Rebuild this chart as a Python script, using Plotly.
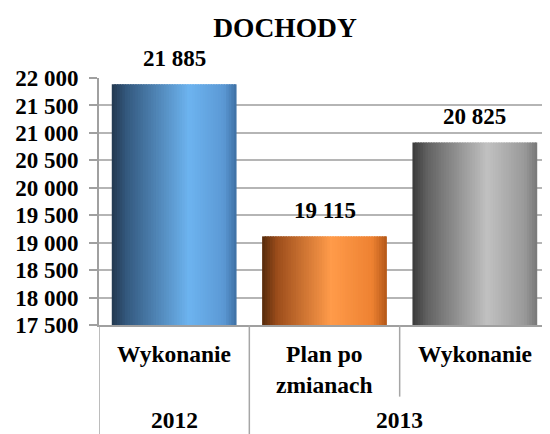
import plotly.graph_objects as go

# ---- data ----
years = ["2012", "2013", "2013"]
stages = ["Wykonanie", "Plan po<br>zmianach", "Wykonanie"]
values = [21885, 19115, 20825]
title_text = "DOCHODY"
y_min, y_max, y_step = 17500, 22000, 500

# ---- style ----
FONT = "Liberation Serif"
gradients = [
    [(0.0, "#22384f"), (0.12, "#34597f"), (0.62, "#6db4f0"), (0.9, "#5b98d4"), (1.0, "#3e70a3")],
    [(0.0, "#552a0b"), (0.12, "#9c4d1b"), (0.55, "#ff9b4a"), (0.88, "#ee8232"), (1.0, "#b35718")],
    [(0.0, "#3a3a3a"), (0.12, "#626262"), (0.6, "#c1c1c1"), (0.9, "#999999"), (1.0, "#787878")],
]
LINE_C = "#a6a6a6"


def hex2rgb(h):
    h = h.lstrip("#")
    return tuple(int(h[i:i + 2], 16) for i in (0, 2, 4))


def interp(stops, t):
    for (p0, c0), (p1, c1) in zip(stops[:-1], stops[1:]):
        if p0 <= t <= p1:
            f = (t - p0) / (p1 - p0) if p1 > p0 else 0
            a, b = hex2rgb(c0), hex2rgb(c1)
            return "rgb(%d,%d,%d)" % tuple(round(a[i] + (b[i] - a[i]) * f) for i in range(3))
    return stops[-1][1]


def bold(s):
    return "<b>" + s.replace("<br>", "</b><br><b>") + "</b>"


xpos = list(range(len(values)))
bar_w = 0.83
n_strip = 48
step = bar_w / n_strip

fig = go.Figure()
for k in range(n_strip):
    t = (k + 0.5) / n_strip
    w = step * (1.6 if k < n_strip - 1 else 1.0)
    fig.add_trace(go.Bar(
        x=xpos, y=[v - y_min for v in values], base=y_min,
        width=w, offset=-bar_w / 2 + k * step,
        marker=dict(color=[interp(g, t) for g in gradients], line=dict(width=0)),
        hoverinfo="skip", showlegend=False,
    ))

LBL = dict(family=FONT, size=23.5, color="black")
VAL = dict(family=FONT, size=23, color="black")

# value labels
for i, v in enumerate(values):
    fig.add_annotation(
        x=i, y=v, xref="x", yref="y", yanchor="bottom", yshift=11,
        text=bold(f"{v:,}".replace(",", " ")), showarrow=False, font=VAL,
    )

# inner category labels
for i, s in enumerate(stages):
    fig.add_annotation(
        x=i, y=-0.055, xref="x", yref="paper", yanchor="top", xanchor="center",
        text=bold(s), showarrow=False, font=LBL,
    )

# outer (year) labels and dividers
groups = []
for i, yv in enumerate(years):
    if groups and groups[-1][0] == yv:
        groups[-1][2] = i
    else:
        groups.append([yv, i, i])
for yv, a, b in groups:
    fig.add_annotation(
        x=(a + b) / 2, y=-0.383, xref="x", yref="paper", yanchor="middle",
        text=bold(yv), showarrow=False, font=LBL,
    )
    fig.add_shape(type="line", xref="x", yref="paper", x0=a - 0.5, x1=a - 0.5,
                  y0=0, y1=-0.45, line=dict(color=LINE_C, width=1.5))
    for j in range(a + 1, b + 1):
        fig.add_shape(type="line", xref="x", yref="paper", x0=j - 0.5, x1=j - 0.5,
                      y0=0, y1=-0.29, line=dict(color=LINE_C, width=1.5))

fig.update_layout(
    width=542, height=426,
    margin=dict(l=91, r=0, t=70, b=109, autoexpand=False),
    paper_bgcolor="white", plot_bgcolor="white",
    barmode="overlay",
    separators=", ",
    title=dict(text=bold(title_text), x=0.511, xanchor="center", y=0.955, yanchor="middle",
               font=dict(family=FONT, size=27.5, color="black")),
    font=dict(family=FONT, color="black"),
)
fig.update_yaxes(
    range=[y_min, y_max], dtick=y_step, tick0=y_min, tickformat=",d",
    showgrid=True, gridcolor="#b5b5b5", gridwidth=2,
    showline=True, linecolor="#a0a0a0", linewidth=2,
    ticks="outside", ticklen=8, tickcolor="#a0a0a0", tickwidth=2,
    ticklabelstandoff=6,
    tickfont=dict(family=FONT, size=23, color="black", weight="bold"),
    zeroline=False, automargin=False,
)
fig.update_xaxes(
    range=[-0.5, len(values) - 0.5], showticklabels=False, ticks="",
    showgrid=False, zeroline=False,
    showline=True, linecolor="#a0a0a0", linewidth=2, automargin=False,
)

fig.write_html("out.html")
